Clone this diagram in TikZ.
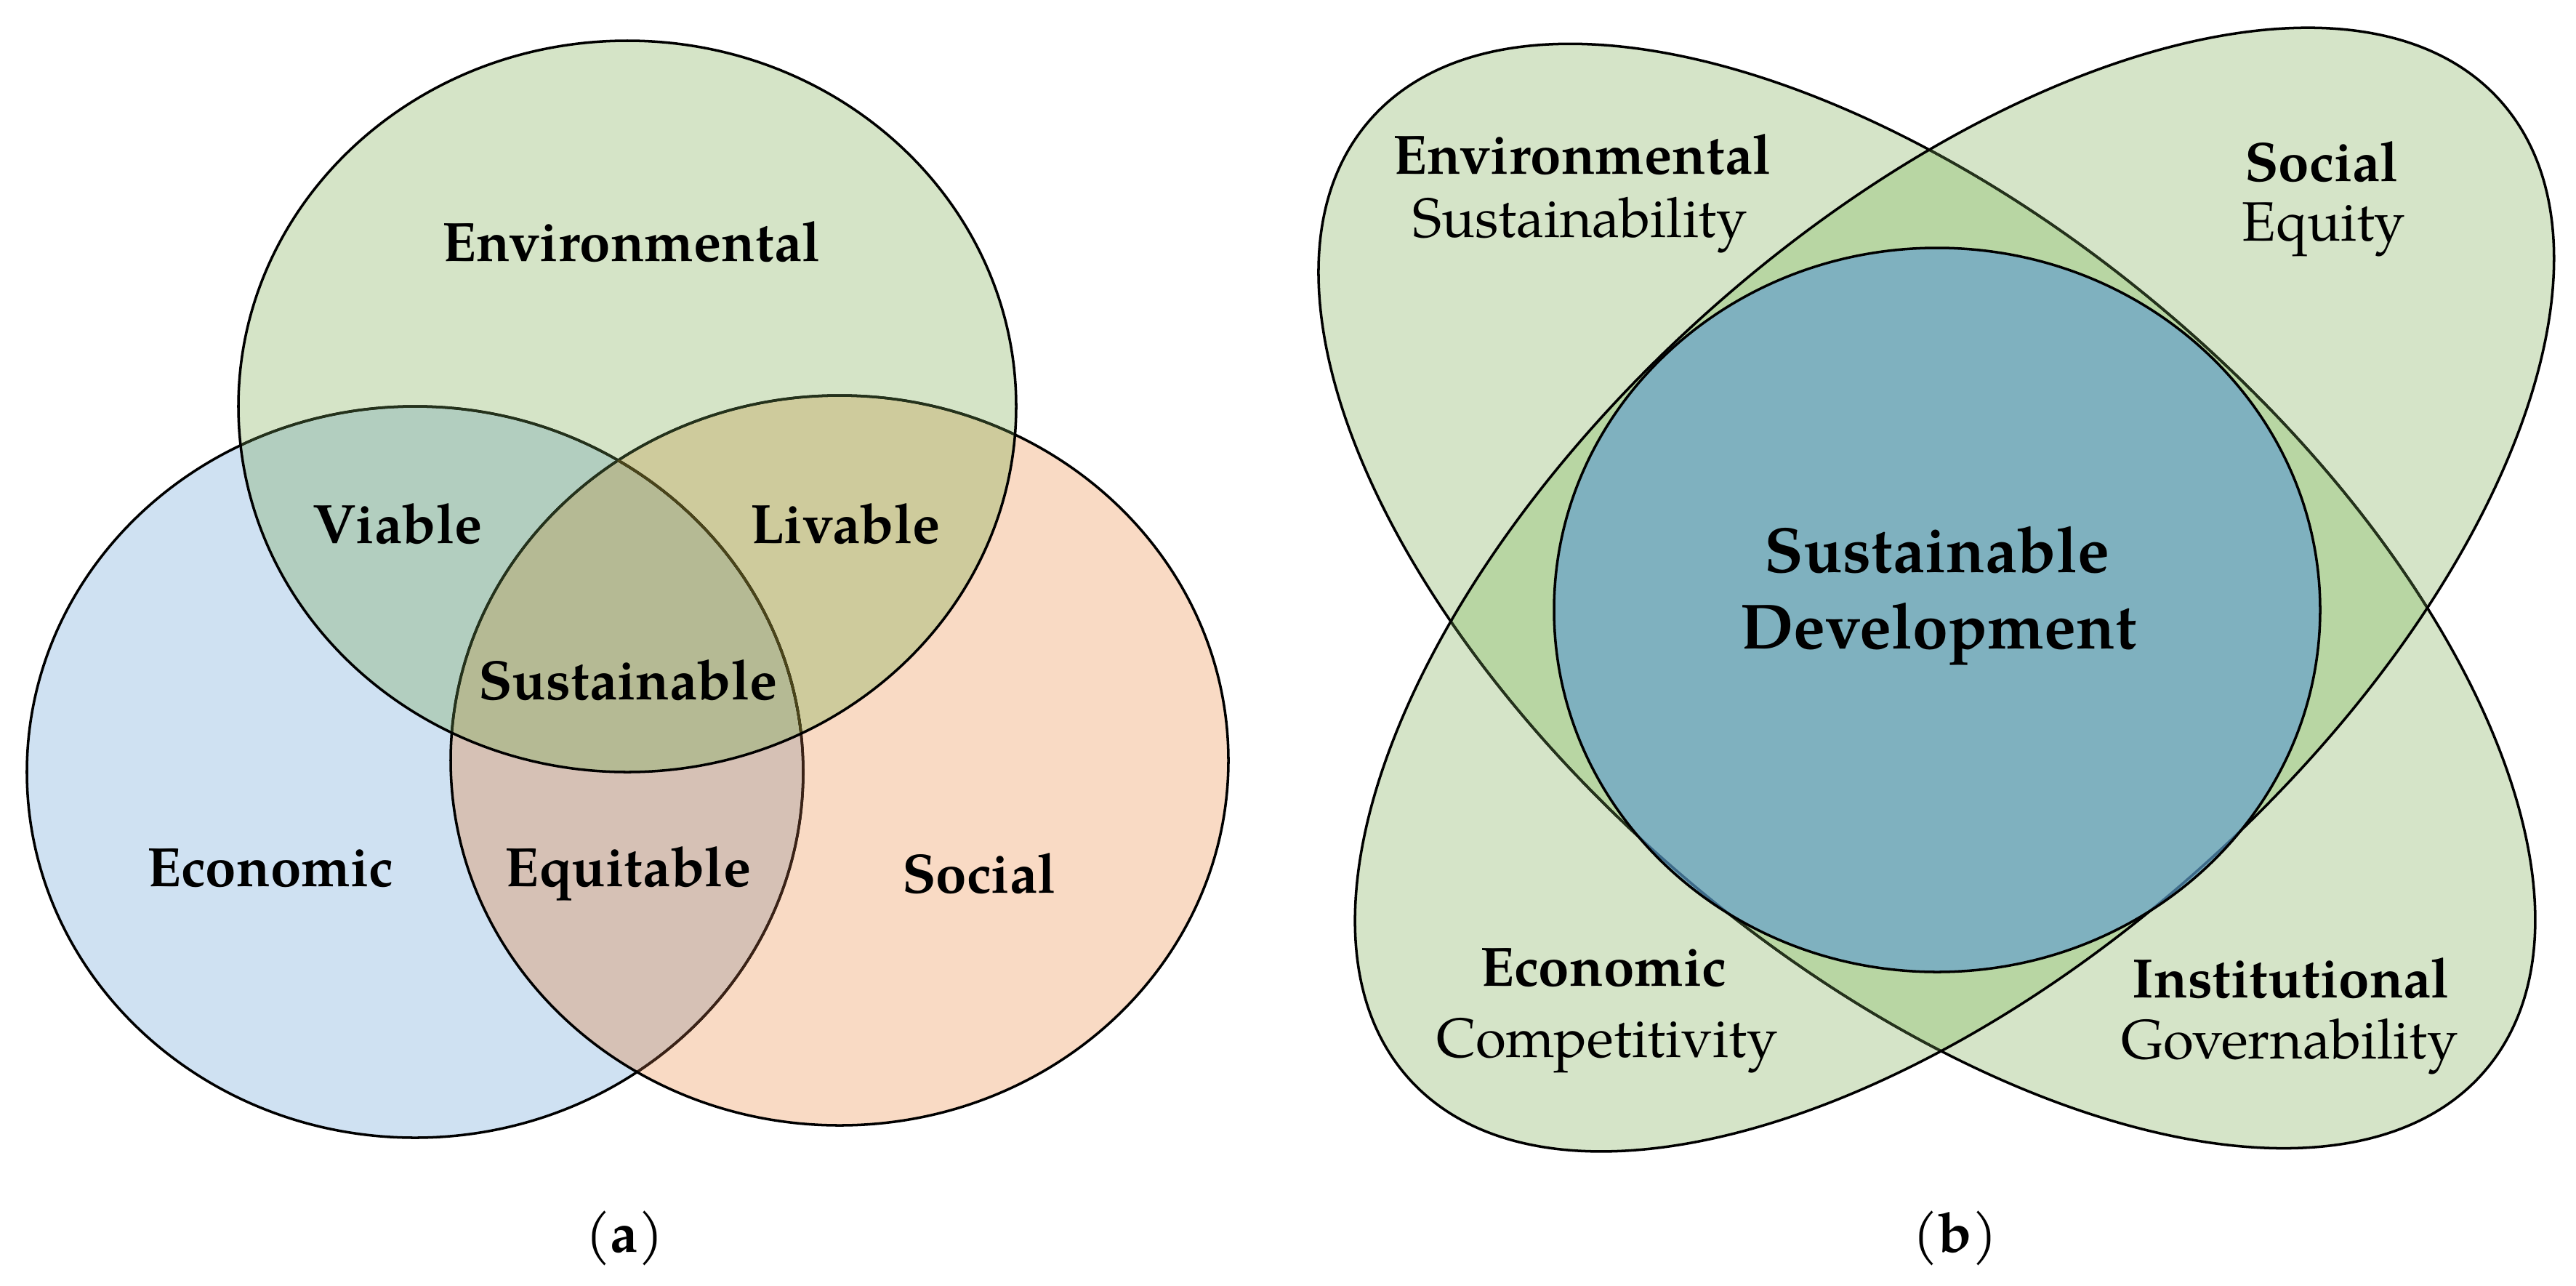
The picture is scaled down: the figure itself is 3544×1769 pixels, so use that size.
\documentclass[tikz,border=0pt]{standalone}
\usepackage{fontspec}
\setmainfont{TeX Gyre Pagella}
\definecolor{envC}{HTML}{D5E4C7}
\definecolor{ecoC}{HTML}{CFE1F2}
\definecolor{socC}{HTML}{F9DAC4}
\definecolor{viaC}{HTML}{B2CEBF}
\definecolor{livC}{HTML}{CECB9C}
\definecolor{susC}{HTML}{B5BA94}
\definecolor{equC}{HTML}{D6C1B5}
\definecolor{lobeC}{HTML}{D5E4C8}
\definecolor{ovlC}{HTML}{B8D6A3}
\definecolor{sdC}{HTML}{7FB1BF}
\definecolor{lnGreen}{HTML}{24321B}
\definecolor{lnBrown}{HTML}{3B2216}
\definecolor{lnOlive}{HTML}{4A4419}
\definecolor{lnBlue}{HTML}{3E6B8A}
\begin{document}
\begin{tikzpicture}[x=0.01cm,y=-0.01cm,line width=1pt,
  lbl/.style={anchor=base,inner sep=0pt,font=\fontsize{21.7pt}{26pt}\selectfont\bfseries},
  sub/.style={anchor=base,inner sep=0pt,font=\fontsize{21.7pt}{26pt}\selectfont},
  big/.style={anchor=base,inner sep=0pt,font=\fontsize{25pt}{30pt}\selectfont\bfseries},
  rotA/.style={rotate around={-40.3:(Ac)}},
  rotB/.style={rotate around={41.85:(Bc)}}]
\useasboundingbox (0,0) rectangle (3544,1769);
% ---------------- panel (a)
\coordinate (envc) at (863,559);
\coordinate (ecoc) at (571,1062);
\coordinate (socc) at (1155,1046);
\fill[ecoC] (ecoc) ellipse [x radius=534,y radius=503];
\fill[socC] (socc) ellipse [x radius=535,y radius=502];
\fill[envC] (envc) ellipse [x radius=535,y radius=503];
\begin{scope}
  \clip (ecoc) ellipse [x radius=534,y radius=503];
  \fill[equC] (socc) ellipse [x radius=535,y radius=502];
\end{scope}
\begin{scope}
  \clip (envc) ellipse [x radius=535,y radius=503];
  \fill[viaC] (ecoc) ellipse [x radius=534,y radius=503];
  \fill[livC] (socc) ellipse [x radius=535,y radius=502];
  \clip (ecoc) ellipse [x radius=534,y radius=503];
  \fill[susC] (socc) ellipse [x radius=535,y radius=502];
\end{scope}
\draw (ecoc) ellipse [x radius=534,y radius=503];
\begin{scope}
  \clip (socc) ellipse [x radius=535,y radius=502];
  \draw[lnBrown] (ecoc) ellipse [x radius=534,y radius=503];
\end{scope}
\draw (socc) ellipse [x radius=535,y radius=502];
\begin{scope}
  \clip (envc) ellipse [x radius=535,y radius=503];
  \draw[lnGreen] (ecoc) ellipse [x radius=534,y radius=503];
  \draw[lnGreen] (socc) ellipse [x radius=535,y radius=502];
  \clip (socc) ellipse [x radius=535,y radius=502];
  \draw[lnOlive] (ecoc) ellipse [x radius=534,y radius=503];
\end{scope}
\draw (envc) ellipse [x radius=535,y radius=503];
\node[lbl] (tEnv) at (869,359) {Environmental};
\node[lbl] (tVia) at (547,747) {Viable};
\node[lbl] (tLiv) at (1163,747) {Livable};
\node[lbl] (tSus) at (864,962) {Sustainable};
\node[lbl] (tEco) at (372,1219) {Economic};
\node[lbl] (tEqu) at (864,1219) {Equitable};
\node[lbl] (tSoc) at (1347,1228) {Social};
\node[sub] (capA) at (859,1722) {(\textbf{a})};
% ---------------- panel (b)
\coordinate (Ac) at (2651,820);
\coordinate (Bc) at (2689,811);
\coordinate (Cc) at (2665,839);
\fill[lobeC,rotA] (Ac) ellipse [x radius=1008,y radius=511];
\fill[lobeC,rotB] (Bc) ellipse [x radius=1008,y radius=511];
\begin{scope}
  \clip[rotA] (Ac) ellipse [x radius=1008,y radius=511];
  \fill[ovlC,rotB] (Bc) ellipse [x radius=1008,y radius=511];
\end{scope}
\draw[rotA] (Ac) ellipse [x radius=1008,y radius=511];
\begin{scope}
  \clip[rotB] (Bc) ellipse [x radius=1008,y radius=511];
  \draw[lnGreen,rotA] (Ac) ellipse [x radius=1008,y radius=511];
\end{scope}
\draw[rotB] (Bc) ellipse [x radius=1008,y radius=511];
\fill[sdC] (Cc) ellipse [x radius=527,y radius=498];
\begin{scope}
  \clip (Cc) ellipse [x radius=527,y radius=498];
  \draw[lnBlue,rotA] (Ac) ellipse [x radius=1008,y radius=511];
  \draw[lnBlue,rotB] (Bc) ellipse [x radius=1008,y radius=511];
\end{scope}
\draw (Cc) ellipse [x radius=527,y radius=498];
\node[lbl] (bEnv) at (2177,239) {Environmental};
\node[sub] (bEnv2) at (2174,326) {Sustainability};
\node[lbl] (bSoc) at (3194,249) {Social};
\node[sub] (bSoc2) at (3197,331) {Equity};
\node[lbl] (bEco) at (2206,1356) {Economic};
\node[sub] (bEco2) at (2211,1454) {Competitivity};
\node[lbl] (bIns) at (3152,1372) {Institutional};
\node[sub] (bIns2) at (3150,1456) {Governability};
\node[big] (bSD1) at (2665,787) {Sustainable};
\node[big] (bSD2) at (2667,892) {Development};
\node[sub] (capB) at (2690,1722) {(\textbf{b})};
\end{tikzpicture}
\end{document}
